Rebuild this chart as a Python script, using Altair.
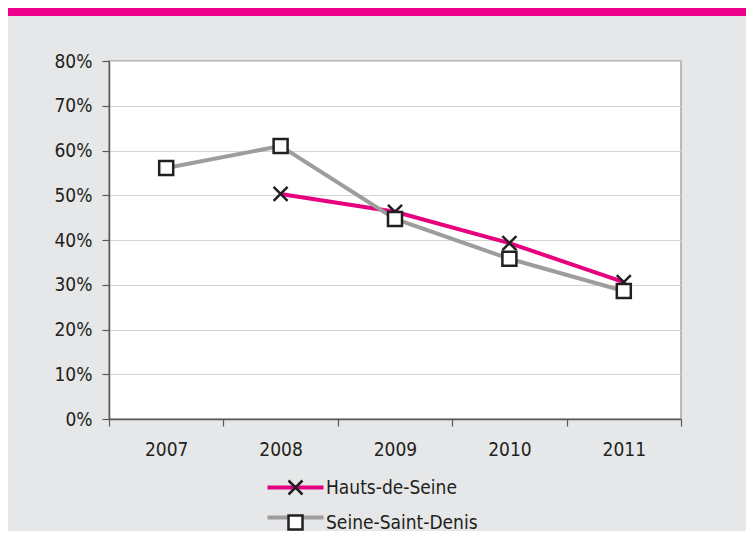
import altair as alt
import pandas as pd

years = ["2007", "2008", "2009", "2010", "2011"]
hauts_de_seine = [None, 0.503, 0.463, 0.393, 0.306]
seine_saint_denis = [0.561, 0.610, 0.447, 0.358, 0.286]
series_names = ["Hauts-de-Seine", "Seine-Saint-Denis"]
series_codes = ["HdS", "SSD"]
y_ticks = [0, 0.1, 0.2, 0.3, 0.4, 0.5, 0.6, 0.7, 0.8]

rows = []
for name, code, vals in zip(series_names, series_codes, [hauts_de_seine, seine_saint_denis]):
    for yr, v in zip(years, vals):
        if v is not None:
            rows.append({"year": yr, "value": v, "series": name, "code": code})
df = pd.DataFrame(rows)

FONT = "Liberation Sans Narrow, DejaVu Sans Condensed, sans-serif"
PINK = "#e6007e"
GREY = "#9d9d9d"
DARK = "#231f20"
XPATH = "M-1,-1L1,1M-1,1L1,-1"

x_enc = alt.X("year:O", bandPosition=0.5,
              scale=alt.Scale(type="band", domain=years, paddingInner=0, paddingOuter=0),
              axis=alt.Axis(title=None, labelAngle=0, tickBand="extent", grid=False,
                            tickSize=7, labelPadding=14, domainColor="#58595b",
                            domainWidth=1.5, tickColor="#58595b", tickWidth=1.2))
y_enc = alt.Y("value:Q", scale=alt.Scale(domain=[0, 0.8], nice=False),
              axis=alt.Axis(title=None, values=y_ticks, format=".0%", tickSize=7,
                            labelPadding=10, grid=True, gridColor="#d4d4d4",
                            domainColor="#58595b", domainWidth=1.5,
                            tickColor="#58595b", tickWidth=1.2))

color_enc = alt.Color("code:N",
                      scale=alt.Scale(domain=series_codes, range=[PINK, GREY]),
                      legend=alt.Legend(title=None, orient="none", legendX=177, legendY=417,
                                        symbolType="M-4,0H4", symbolSize=196,
                                        symbolStrokeWidth=4, labelOffset=21,
                                        rowPadding=10, labelExpr="''"))

marker_legend = alt.Legend(title=None, orient="none", legendX=177, legendY=417,
                           symbolSize=196, symbolStrokeWidth=2.5,
                           symbolFillColor="white", labelOffset=21, rowPadding=10)
shape_enc = alt.Shape("series:N",
                      scale=alt.Scale(domain=series_names, range=[XPATH, "square"]),
                      legend=marker_legend)
stroke_enc = alt.Stroke("series:N",
                        scale=alt.Scale(domain=series_names, range=[DARK, DARK]),
                        legend=marker_legend)

base = alt.Chart(df).encode(x=x_enc, y=y_enc)

layers = []
for name in series_names:
    sub = base.transform_filter(alt.datum.series == name)
    layers.append(sub.mark_line(strokeWidth=4).encode(color=color_enc))
    layers.append(sub.mark_point(size=196, fill="white", strokeWidth=2.5,
                                 opacity=1, fillOpacity=1).encode(shape=shape_enc,
                                                                  stroke=stroke_enc))

top_bar = alt.Chart(df).mark_rule(color="#ec008c", strokeWidth=9).encode(
    x=alt.value(-110), x2=alt.value(700), y=alt.value(-49.5))

chart = alt.layer(top_bar, *layers).properties(
    width=572, height=358,
    padding={"left": 101, "top": 53, "right": 65, "bottom": 112},
    autosize=alt.AutoSizeParams(type="none"),
    background="#e6e7e8",
).configure_view(
    fill="white", stroke="#a6a6a6", strokeWidth=1.5
).configure_axis(
    labelFont=FONT, labelFontSize=19, labelColor=DARK
).configure_legend(
    labelFont=FONT, labelFontSize=19, labelColor=DARK
)

chart.save("out.html", embed_options={"renderer": "svg", "actions": False})
